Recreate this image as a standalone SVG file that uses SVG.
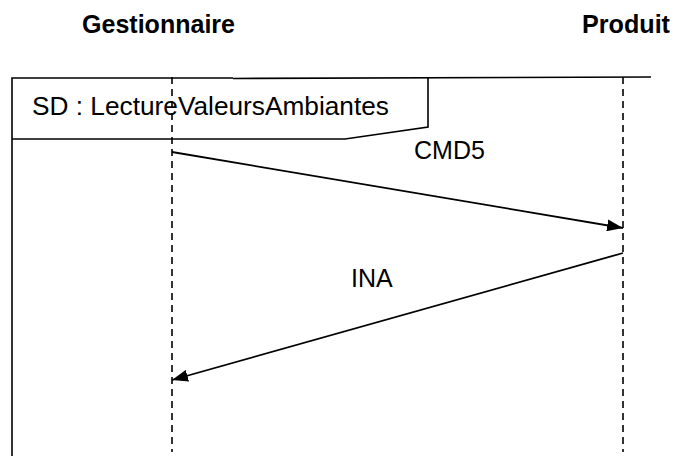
<svg xmlns="http://www.w3.org/2000/svg" width="675" height="456" viewBox="0 0 675 456">
<style>
.t{font-family:"Liberation Sans",Arial,sans-serif;font-size:25px;fill:#000}
.b{font-weight:bold}
.frame{fill:none;stroke:#000;stroke-width:1.6}
.life{fill:none;stroke:#000;stroke-width:1.6;stroke-dasharray:7 5}
.msg{fill:none;stroke:#000;stroke-width:1.8}
</style>
<defs>
<marker id="ah" markerWidth="16" markerHeight="12" refX="16" refY="6" orient="auto" markerUnits="userSpaceOnUse">
<path d="M0,0 L16,6 L0,12 Z" fill="#000"/>
</marker>
</defs>
<rect width="675" height="456" fill="#fff"/>
<g id="frame">
<path class="frame" d="M12,456 V78 H233 M233,78.5 L651,77"/>
<path class="frame" d="M12,139 H345 L428,127 V78"/>
<text class="t" x="32" y="115" textLength="357" lengthAdjust="spacingAndGlyphs">SD : LectureValeursAmbiantes</text>
</g>
<g id="gestionnaire">
<text class="t b" x="82" y="33" textLength="153" lengthAdjust="spacingAndGlyphs">Gestionnaire</text>
<line class="life" x1="172" y1="77" x2="172" y2="452"/>
</g>
<g id="produit">
<text class="t b" x="582" y="33" textLength="88" lengthAdjust="spacingAndGlyphs">Produit</text>
<line class="life" x1="623" y1="77" x2="623" y2="452"/>
</g>
<g id="connectors">
<path class="msg" d="M172,152 L623,228" marker-end="url(#ah)"/>
<text class="t" x="414" y="159">CMD5</text>
<path class="msg" d="M623,253 L172,380" marker-end="url(#ah)"/>
<text class="t" x="351" y="287">INA</text>
</g>
</svg>
